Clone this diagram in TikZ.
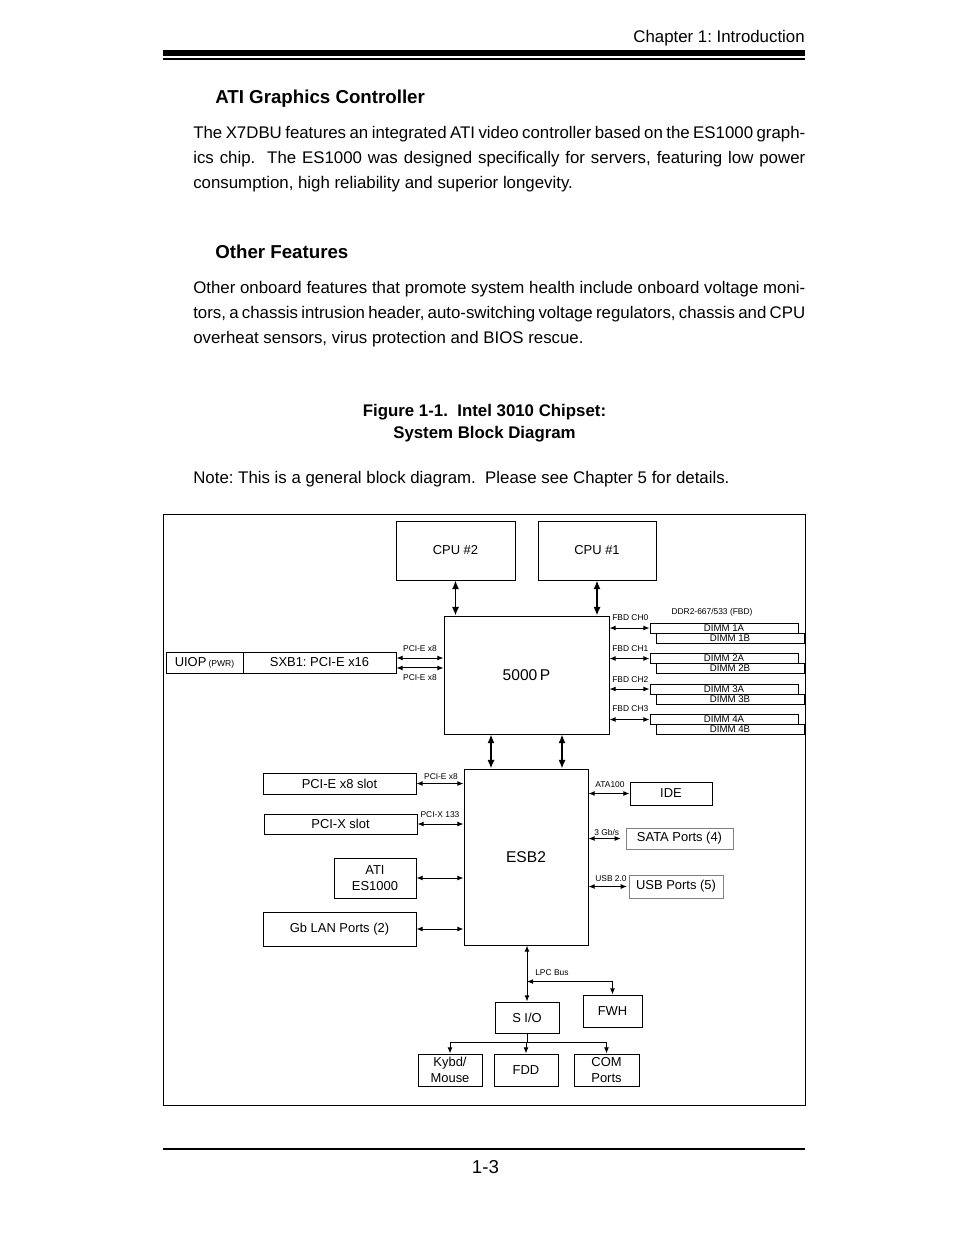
\documentclass[tikz,border=0pt]{standalone}
\usepackage{fontspec}
\setmainfont{Liberation Sans}
\usetikzlibrary{arrows.meta,calc}
\newcommand\fs[1]{\fontsize{#1}{#1}\selectfont}
\newcommand\jline[1]{\makebox[392.6pt][s]{#1}}
\newcommand\bxn[7][bx]{\node[#1, minimum width={(#5-#3)*0.6415pt}, minimum height={(#6-#4)*0.6415pt}] (#2) at ({(#3+#5)/2},{(#4+#6)/2}) {#7};}
\begin{document}
\frenchspacing
\begin{tikzpicture}[x=0.6415pt,y=-0.6415pt,
  bx/.style={draw, line width=0.6pt, inner sep=0pt, fill=white, font=\fontsize{8.3}{10.2}\selectfont, align=center},
  gbx/.style={bx, draw=black!50},
  dimm/.style={bx, font=\fs{6.2}},
  big/.style={bx, font=\fs{10}},
  lbl/.style={inner sep=0pt, font=\fs{5.4}},
  body/.style={inner sep=0pt, anchor=base west, font=\fs{10.8}},
  head/.style={inner sep=0pt, anchor=base west, font=\fs{12}\bfseries},
  arr/.style={{Latex[length=4pt,width=3.2pt]}-{Latex[length=4pt,width=3.2pt]}, line width=0.6pt},
  barr/.style={{Latex[length=5.5pt,width=4.6pt]}-{Latex[length=5.5pt,width=4.6pt]}, line width=1.1pt},
  dn/.style={-{Latex[length=4pt,width=3.2pt]}, line width=0.6pt},
  ln/.style={line width=0.6pt}]
\fill[white] (0,0) rectangle (954,1235);
\useasboundingbox (0,0) rectangle (954,1235);

% page header
\node[inner sep=0pt, anchor=base east, font=\fs{10.8}] (chap) at (805,42) {Chapter 1: Introduction};
\fill[black] (163,50) rectangle (805,55.5);
\fill[black] (163,58) rectangle (805,60.2);

% text
\node[head] (h1) at (215,103) {ATI Graphics Controller};
\node[body] (p1a) at (193,138) {\jline{The X7DBU features an integrated ATI video controller based on the ES1000 graph-}};
\node[body] (p1b) at (193,163) {\jline{ics chip.\ \ The ES1000 was designed specifically for servers, featuring low power}};
\node[body] (p1c) at (193,188) {consumption, high reliability and superior longevity.};
\node[head] (h2) at (215,258) {Other Features};
\node[body] (p2a) at (193,293) {\jline{Other onboard features that promote system health include onboard voltage moni-}};
\node[body] (p2b) at (193,318) {\jline{tors, a chassis intrusion header, auto-switching voltage regulators, chassis and CPU}};
\node[body] (p2c) at (193,343) {overheat sensors, virus protection and BIOS rescue.};
\node[inner sep=0pt, anchor=base, font=\fs{10.8}\bfseries] (cap1) at (484.5,416) {Figure 1-1.\ \ Intel 3010 Chipset:};
\node[inner sep=0pt, anchor=base, font=\fs{10.8}\bfseries] (cap2) at (484.5,438) {System Block Diagram};
\node[body] (note) at (193,483) {Note: This is a general block diagram.\ \ Please see Chapter 5 for details.};

% footer
\fill[black] (163,1148) rectangle (805,1150.2);
\node[inner sep=0pt, anchor=base, font=\fs{12}] (pg) at (485.5,1173) {1-3};

% diagram frame
\draw[ln] (163,514) rectangle (805,1105);

% boxes
\bxn{cpu2}{396}{521}{515}{580}{CPU \#2}
\bxn{cpu1}{538}{521}{656}{580}{CPU \#1}
\bxn[big]{np}{444}{616}{609}{734}{5000\,P}
\bxn{uiop}{166}{652}{243}{673}{UIOP\,{\fs{5.5}(PWR)}}
\bxn{sxb}{243}{652}{396}{673}{SXB1: PCI-E x16}

% DIMMs
\bxn[dimm]{d1b}{656}{633}{804}{643}{DIMM 1B}
\bxn[dimm]{d1a}{650}{623}{798}{633}{DIMM 1A}
\bxn[dimm]{d2b}{656}{663.5}{804}{673.5}{DIMM 2B}
\bxn[dimm]{d2a}{650}{653.5}{798}{663.5}{DIMM 2A}
\bxn[dimm]{d3b}{656}{694}{804}{704}{DIMM 3B}
\bxn[dimm]{d3a}{650}{684}{798}{694}{DIMM 3A}
\bxn[dimm]{d4b}{656}{724.5}{804}{734.5}{DIMM 4B}
\bxn[dimm]{d4a}{650}{714.5}{798}{724.5}{DIMM 4A}

\bxn[big]{esb}{464}{769}{588}{945}{ESB2}
\bxn{pcie}{263}{773}{416}{794}{PCI-E x8 slot}
\bxn{pcix}{264}{814}{417}{834}{PCI-X slot}
\bxn{ati}{334}{858}{416}{898}{ATI\\ES1000}
\bxn{lan}{263}{912}{416}{946}{Gb LAN Ports (2)}
\bxn{ide}{630}{782}{712}{805}{IDE}
\bxn[gbx]{sata}{626}{828}{733}{849}{SATA Ports (4)}
\bxn[gbx]{usb}{629}{875}{723}{898}{USB Ports (5)}

\bxn{sio}{495}{1002}{559}{1033}{S I/O}
\bxn{fwh}{583}{995}{642}{1027}{FWH}
\bxn{kb}{418}{1054}{482}{1086}{Kybd/\\Mouse}
\bxn{fdd}{494}{1054}{558}{1086}{FDD}
\bxn{com}{574}{1054}{639}{1086}{COM\\Ports}

% labels
\node[lbl] (ddr) at (712,612) {DDR2-667/533 (FBD)};
\node[lbl, anchor=west] (ch0) at (612,618) {FBD CH0};
\node[lbl, anchor=west] (ch1) at (612,649) {FBD CH1};
\node[lbl, anchor=west] (ch2) at (612,680) {FBD CH2};
\node[lbl, anchor=west] (ch3) at (612,709) {FBD CH3};
\node[lbl] (px1) at (420,649) {PCI-E x8};
\node[lbl] (px2) at (420,678) {PCI-E x8};
\node[lbl] (px3) at (441,777) {PCI-E x8};
\node[lbl] (pxx) at (440,815) {PCI-X 133};
\node[lbl] (ata) at (610,785) {ATA100};
\node[lbl, anchor=west] (gbs) at (594,832) {3 Gb/s};
\node[lbl, anchor=west] (usbl) at (595,879) {USB 2.0};
\node[lbl, anchor=west] (lpcl) at (535,973) {LPC Bus};

% connectors
\draw[barr] (cpu2.south) -- (cpu2.south |- np.north);
\draw[barr] (cpu1.south) -- (cpu1.south |- np.north);
\coordinate (m1) at (491,750);
\coordinate (m2) at (562,750);
\draw[barr] (m1 |- np.south) -- (m1 |- esb.north);
\draw[barr] (m2 |- np.south) -- (m2 |- esb.north);

\draw[arr] (np.east |- d1a.west) -- (d1a.west);
\draw[arr] (np.east |- d2a.west) -- (d2a.west);
\draw[arr] (np.east |- d3a.west) -- (d3a.west);
\draw[arr] (np.east |- d4a.west) -- (d4a.west);

\draw[arr] ([yshift=2.9pt]sxb.east) -- ([yshift=2.9pt]sxb.east -| np.west);
\draw[arr] ([yshift=-3.5pt]sxb.east) -- ([yshift=-3.5pt]sxb.east -| np.west);

\draw[arr] (pcie.east) -- (pcie.east -| esb.west);
\draw[arr] (pcix.east) -- (pcix.east -| esb.west);
\draw[arr] (ati.east) -- (ati.east -| esb.west);
\draw[arr] (lan.east) -- (lan.east -| esb.west);

\draw[arr] (esb.east |- ide.west) -- (ide.west);
\draw[arr] (esb.east |- sata.west) -- ([xshift=-3pt]sata.west);
\draw[arr] (esb.east |- usb.west) -- ([xshift=-1pt]usb.west);

\draw[arr] (sio.north |- esb.south) -- (sio.north);
\coordinate (lpc) at ($(sio.north)+(0,-20)$);
\draw[arr] (lpc) -- (fwh.north |- lpc) -- (fwh.north);

\coordinate (br) at ($(sio.south)+(0,9)$);
\draw[ln] (sio.south) -- (br) (kb.north |- br) -- (com.north |- br);
\draw[dn] (kb.north |- br) -- (kb.north);
\draw[dn] (fdd.north |- br) -- (fdd.north);
\draw[dn] (com.north |- br) -- (com.north);
\end{tikzpicture}
\end{document}
